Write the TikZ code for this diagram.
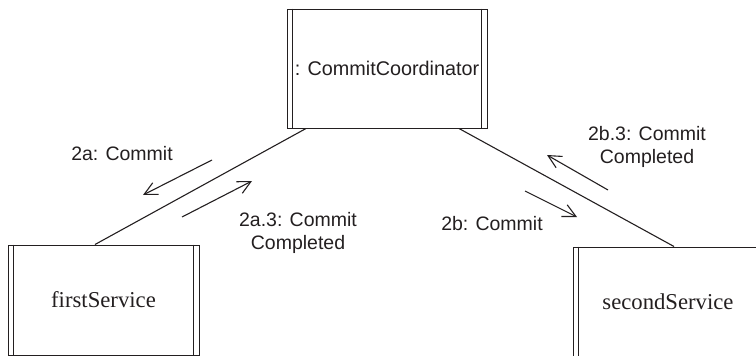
\documentclass[tikz,border=0pt]{standalone}
\usepackage{fontspec}
\setmainfont{Liberation Serif}
\setsansfont{Liberation Sans}
\usetikzlibrary{positioning, arrows.meta, calc}
\definecolor{inkGray}{RGB}{35, 31, 32}
\tikzset{
  activeObject/.style={
    draw=inkGray,
    line width=1pt,
    rectangle,
    inner sep=0pt,
    text=inkGray,
    font=\fontsize{22.7}{26}\selectfont
  },
  coordObject/.style={
    activeObject,
    font=\sffamily\fontsize{19.8}{23}\selectfont
  },
  linkLine/.style={
    draw=inkGray,
    line width=1.1pt
  },
  msgArrow/.style={
    draw=inkGray,
    line width=1.1pt,
    -{Straight Barb[length=13pt,width=13pt,line width=1.1pt]}
  },
  msgLabel/.style={
    align=center,
    text=inkGray,
    inner sep=0pt,
    font=\sffamily\fontsize{19.5}{23}\selectfont
  }
}
\newcommand{\sideBars}[1]{%
  \draw[line width=1pt, draw=inkGray] ([xshift=6pt]#1.north west) -- ([xshift=6pt]#1.south west);
  \draw[line width=1pt, draw=inkGray] ([xshift=-6pt]#1.north east) -- ([xshift=-6pt]#1.south east);
}
\begin{document}
\begin{tikzpicture}[x=1pt, y=-1pt]
  \useasboundingbox (0,0) rectangle (756,356);
  \clip (0,0) rectangle (756,356);
  % objects
  \node[coordObject, minimum width=200pt, minimum height=119pt] (coord) at (387,68.5) {: CommitCoordinator};
  \node[activeObject, minimum width=191pt, minimum height=110pt] (first) at (103.5,300) {firstService};
  \node[activeObject, minimum width=190pt, minimum height=110pt] (second) at (668,302) {secondService};
  \sideBars{coord}
  \sideBars{first}
  \sideBars{second}
  % links
  \draw[linkLine] ([xshift=-8.5pt]first.north) -- ([xshift=-81pt]coord.south);
  \draw[linkLine] ([xshift=72pt]coord.south) -- ([xshift=6pt]second.north);
  % messages to firstService
  \coordinate (aCommitFrom) at (212,160);
  \coordinate (aCommitTo) at (143,195);
  \coordinate (aDoneFrom) at (182,217);
  \coordinate (aDoneTo) at (252,181);
  \draw[msgArrow] (aCommitFrom) -- (aCommitTo);
  \draw[msgArrow] (aDoneFrom) -- (aDoneTo);
  \node[msgLabel] (aCommit) at (122,154) {2a: Commit};
  \node[msgLabel] (aDone) at (298,233) {2a.3: Commit\\Completed};
  % messages to secondService
  \coordinate (bCommitFrom) at (525,191);
  \coordinate (bCommitTo) at (577,217);
  \coordinate (bDoneFrom) at (608,190);
  \coordinate (bDoneTo) at (547,155);
  \draw[msgArrow] (bCommitFrom) -- (bCommitTo);
  \draw[msgArrow] (bDoneFrom) -- (bDoneTo);
  \node[msgLabel] (bCommit) at (492,224) {2b: Commit};
  \node[msgLabel] (bDone) at (647,147) {2b.3: Commit\\Completed};
\end{tikzpicture}
\end{document}
